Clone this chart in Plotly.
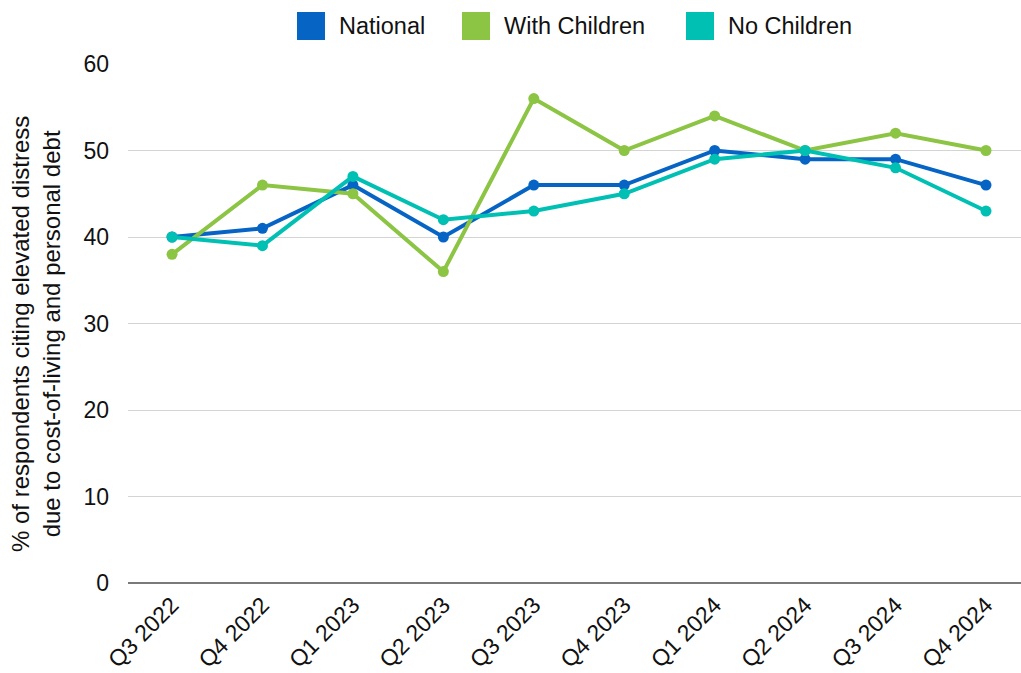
import plotly.graph_objects as go

quarters = ["Q3 2022", "Q4 2022", "Q1 2023", "Q2 2023", "Q3 2023",
            "Q4 2023", "Q1 2024", "Q2 2024", "Q3 2024", "Q4 2024"]
national = [40, 41, 46, 40, 46, 46, 50, 49, 49, 46]
with_children = [38, 46, 45, 36, 56, 50, 54, 50, 52, 50]
no_children = [40, 39, 47, 42, 43, 45, 49, 50, 48, 43]

series_names = ["National", "With Children", "No Children"]
series_colors = ["#0564c4", "#8cc444", "#00c0b3"]
series_values = [national, with_children, no_children]

W, H = 1021, 673
ML, MR, MT, MB = 128, 0, 64, 90
PW, PH = W - ML - MR, H - MT - MB
FONT = "Liberation Sans, Arial, Helvetica, sans-serif"


def px_x(px):
    return (px - ML) / PW


def px_y(py):
    return (H - MB - py) / PH


fig = go.Figure()
for name, color, vals in zip(series_names, series_colors, series_values):
    fig.add_trace(go.Scatter(
        x=quarters, y=vals, name=name, mode="lines+markers",
        line=dict(color=color, width=4),
        marker=dict(color=color, size=11),
        showlegend=False,
    ))

# custom legend (large squares)
shapes = []
annotations = []
legend_sq_x = [297, 462, 686]
for name, color, sx in zip(series_names, series_colors, legend_sq_x):
    shapes.append(dict(type="rect", xref="paper", yref="paper",
                       x0=px_x(sx), x1=px_x(sx + 28), y0=px_y(40), y1=px_y(12),
                       fillcolor=color, line=dict(width=0)))
    annotations.append(dict(xref="paper", yref="paper", x=px_x(sx + 40), y=px_y(26),
                            xanchor="left", yanchor="middle", showarrow=False,
                            text=name, font=dict(family=FONT, size=23.5, color="#111111")))

annotations.append(dict(
    xref="paper", yref="paper", x=px_x(36), y=px_y(334), xanchor="center", yanchor="middle",
    showarrow=False, textangle=-90,
    text="% of respondents citing elevated distress<br>due to cost-of-living and personal debt",
    font=dict(family=FONT, size=24, color="#111111")))

fig.update_layout(
    width=W, height=H,
    margin=dict(l=ML, r=MR, t=MT, b=MB, pad=0, autoexpand=False),
    paper_bgcolor="white", plot_bgcolor="white",
    font=dict(family=FONT, size=22, color="#111111"),
    shapes=shapes, annotations=annotations,
    showlegend=False,
)
fig.update_xaxes(
    type="category", range=[-0.487, 9.387], automargin=False,
    tickangle=-45, showgrid=False, zeroline=False, showline=False,
    ticks="", tickfont=dict(family=FONT, size=23, color="#111111"),
    ticklabelstandoff=3,
)
fig.update_yaxes(
    range=[0, 60], tickvals=[0, 10, 20, 30, 40, 50, 60], automargin=False,
    showgrid=True, gridcolor="#d4d4d4", gridwidth=1,
    zeroline=True, zerolinecolor="#7a7a7a", zerolinewidth=1.5,
    showline=False, ticks="",
    tickfont=dict(family=FONT, size=23, color="#111111"),
    ticklabelstandoff=18,
)

fig.write_html("out.html")
